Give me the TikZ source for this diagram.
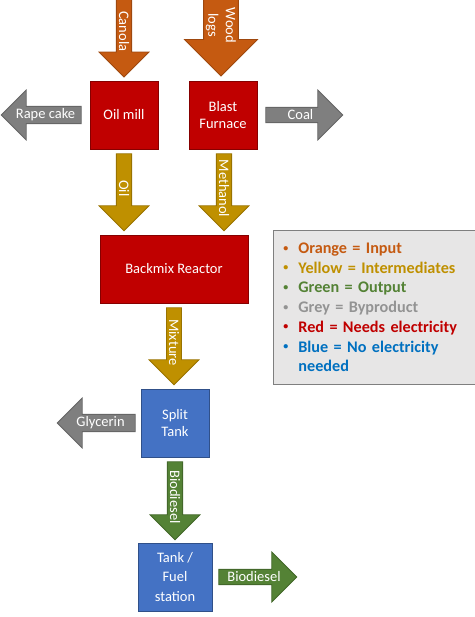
\documentclass[tikz,border=0pt]{standalone}
\usepackage{fontspec}
\setmainfont{Carlito}
\usepackage{xcolor}
\definecolor{InputOrange}{HTML}{C55A11}
\definecolor{InterGold}{HTML}{BF9000}
\definecolor{OutputGreen}{HTML}{548235}
\definecolor{ByproductGrey}{HTML}{7F7F7F}
\definecolor{PowerRed}{HTML}{C00000}
\definecolor{TankBlue}{HTML}{4472C4}
\definecolor{LegendBlue}{HTML}{0070C0}
\definecolor{LegendGrey}{HTML}{939393}
\definecolor{LegendFill}{HTML}{E7E6E6}
\usepackage{tikz}
\usetikzlibrary{shapes.arrows, positioning, calc}
\tikzset{
  machinebox/.style={rectangle, draw=PowerRed!70!black, fill=PowerRed, text=white, line width=0.8pt, minimum width=68pt, minimum height=68pt, inner sep=0pt, font=\fontsize{14.5}{17.5}\selectfont, align=center},
  tankbox/.style={machinebox, draw=TankBlue!70!black, fill=TankBlue},
  flowarrow/.style={single arrow, single arrow head extend=12.5pt, single arrow head indent=0pt, minimum width=50pt, inner xsep=-12pt, inner ysep=0pt, line width=0.8pt, text=white, font=\fontsize{14.5}{17.5}\selectfont, align=center},
  inputarrow/.style={flowarrow, fill=InputOrange, draw=InputOrange!80!black},
  interarrow/.style={flowarrow, fill=InterGold, draw=InterGold!80!black},
  byproductarrow/.style={flowarrow, fill=ByproductGrey, draw=ByproductGrey!80!black},
  outputarrow/.style={flowarrow, fill=OutputGreen, draw=OutputGreen!80!black},
  downwards/.style={rotate=-90},
  leftwards/.style={shape border rotate=180},
  legendbox/.style={rectangle, draw=ByproductGrey, fill=LegendFill, line width=0.8pt, text width=190pt, inner xsep=10pt, minimum height=154pt, align=left, font=\fontsize{16.2}{19.7}\selectfont\bfseries}
}
\newcommand{\legendline}[2]{\textcolor{#1}{\makebox[15pt][l]{\raisebox{2.5pt}{\fontsize{10}{10}\selectfont\textbullet}}#2}}

\begin{document}
\begin{tikzpicture}[x=1pt, y=1pt]
  \useasboundingbox (0,0) rectangle (474,-617);

  % process units
  \node[machinebox] (oilmill) at (124,-115) {Oil mill};
  \node[machinebox] (furnace) at (223,-115) {Blast\\Furnace};
  \node[machinebox, minimum width=148pt] (reactor) at (174,-269) {Backmix Reactor};
  \node[tankbox] (splittank) at (175,-423) {Split\\Tank};
  \node[tankbox, minimum width=74pt] (fuelstation) at (175,-577) {Tank /\\[2pt]Fuel\\[2pt]station};

  % inputs
  \node[inputarrow, downwards, anchor=tip, minimum height=84pt] (canola) at ([yshift=3pt]oilmill.north) {Canola};
  \node[inputarrow, downwards, anchor=tip, minimum height=84pt, minimum width=73pt, single arrow head extend=17pt] (woodlogs) at ([xshift=-2pt,yshift=4pt]furnace.north) {Wood\\logs};

  % intermediates
  \node[interarrow, downwards, anchor=tail, minimum height=77pt] (oil) at ([yshift=-4pt]oilmill.south) {Oil};
  \node[interarrow, downwards, anchor=tail, minimum height=77pt] (methanol) at ([xshift=1pt,yshift=-4pt]furnace.south) {Methanol};
  \node[interarrow, downwards, anchor=tail, minimum height=77pt] (mixture) at ([yshift=-4pt]reactor.south) {Mixture};

  % byproducts
  \node[byproductarrow, leftwards, anchor=tail, minimum height=80pt] (rapecake) at ([xshift=-8pt]oilmill.west) {Rape cake};
  \node[byproductarrow, anchor=tail, minimum height=77pt] (coal) at ([xshift=8pt]furnace.east) {Coal};
  \node[byproductarrow, leftwards, anchor=tail, minimum height=78pt] (glycerin) at ([xshift=-5pt]splittank.west) {Glycerin};

  % outputs
  \node[outputarrow, downwards, anchor=tail, minimum height=78pt] (biodiesel) at ([yshift=-4pt]splittank.south) {Biodiesel};
  \node[outputarrow, anchor=tail, minimum height=78pt] (biodieselout) at ([xshift=6pt]fuelstation.east) {Biodiesel};

  % colour key
  \node[legendbox, anchor=north west] (legend) at (273,-230) {%
    \legendline{InputOrange}{Orange = Input}\\
    \legendline{InterGold}{Yellow = Intermediates}\\
    \legendline{OutputGreen}{Green = Output}\\
    \legendline{LegendGrey}{Grey = Byproduct}\\
    \legendline{PowerRed}{Red = Needs electricity}\\
    \legendline{LegendBlue}{Blue = No electricity}\\
    \textcolor{LegendBlue}{\makebox[15pt][l]{}needed}};
\end{tikzpicture}
\end{document}
